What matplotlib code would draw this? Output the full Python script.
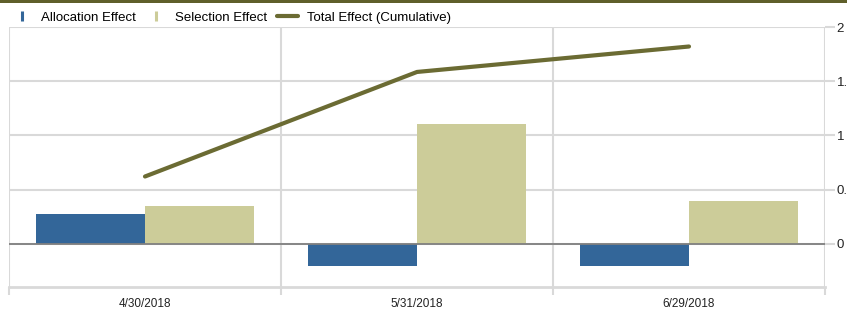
import matplotlib
matplotlib.use("Agg")
import matplotlib.pyplot as plt
from matplotlib.lines import Line2D
from matplotlib.patches import Rectangle
import numpy as np

plt.rcParams['font.family'] = ['Liberation Sans', 'DejaVu Sans']

categories = ["4/30/2018", "5/31/2018", "6/29/2018"]
allocation = [0.27, -0.21, -0.21]
selection = [0.35, 1.105, 0.39]
total_cum = [0.62, 1.585, 1.82]
y_ticks = [0, 0.5, 1, 1.5, 2]
y_tick_labels = ["0", "0.5", "1", "1.5", "2"]

c_alloc = "#336699"
c_sel = "#cccc99"
c_line = "#6b6b33"
c_grid = "#d9d9d9"

W, H = 847, 310
fig = plt.figure(figsize=(W / 100, H / 100), dpi=100)
ax = fig.add_axes([9 / W, 1 - 287 / H, (825 - 9) / W, (287 - 27) / H])

x = np.arange(len(categories))
bw = 0.4
ax.bar(x - bw / 2, allocation, width=bw, color=c_alloc, zorder=3, label="Allocation Effect")
ax.bar(x + bw / 2, selection, width=bw, color=c_sel, zorder=3, label="Selection Effect")
ax.plot(x, total_cum, color=c_line, lw=3.0, solid_capstyle="round", zorder=4,
        label="Total Effect (Cumulative)")

ax.axhline(0, color="#808080", lw=1.3, zorder=3.5)

ax.set_xlim(-0.5, len(categories) - 0.5)
ax.set_ylim(-0.4, 2)

ax.set_xticks(x)
ax.set_xticklabels(categories, fontsize=8.5, color="#222222")
ax.set_xticks(np.arange(len(categories) + 1) - 0.5, minor=True)
ax.tick_params(axis="x", which="major", length=0, pad=8)
ax.tick_params(axis="x", which="minor", length=6, width=1.5, color=c_grid)
ax.grid(axis="x", which="minor", color=c_grid, lw=1.5, zorder=0)

ax.yaxis.tick_right()
ax.set_yticks(y_ticks)
ax.set_yticklabels(y_tick_labels, fontsize=9.5, color="#222222")
ax.tick_params(axis="y", length=7, width=1.5, color=c_grid, pad=1.5)
ax.grid(axis="y", color=c_grid, lw=1.5, zorder=0)

for s in ["top", "left", "right"]:
    ax.spines[s].set_visible(False)
ax.spines["bottom"].set_color(c_grid)
ax.spines["bottom"].set_linewidth(2)
ax.set_axisbelow(True)

handles = [
    Line2D([], [], ls="none", marker="|", markersize=7, markeredgewidth=2.2, color=c_alloc),
    Line2D([], [], ls="none", marker="|", markersize=7, markeredgewidth=2.2, color=c_sel),
    Line2D([], [], color=c_line, lw=3.0, solid_capstyle="round"),
]
labels = ["Allocation Effect", "Selection Effect", "Total Effect (Cumulative)"]
fig.legend(handles, labels, ncol=3, loc="center left",
           bbox_to_anchor=(11.2 / W, 1 - 18 / H), frameon=False,
           fontsize=9.5, handlelength=1.6, handletextpad=0.65,
           columnspacing=0.75, borderpad=0, borderaxespad=0)

fig.add_artist(Rectangle((0, 1 - 2.7 / H), 1, 2.7 / H, transform=fig.transFigure,
                         color="#5f5f2a", lw=0))

fig.savefig("out.png", dpi=100)
